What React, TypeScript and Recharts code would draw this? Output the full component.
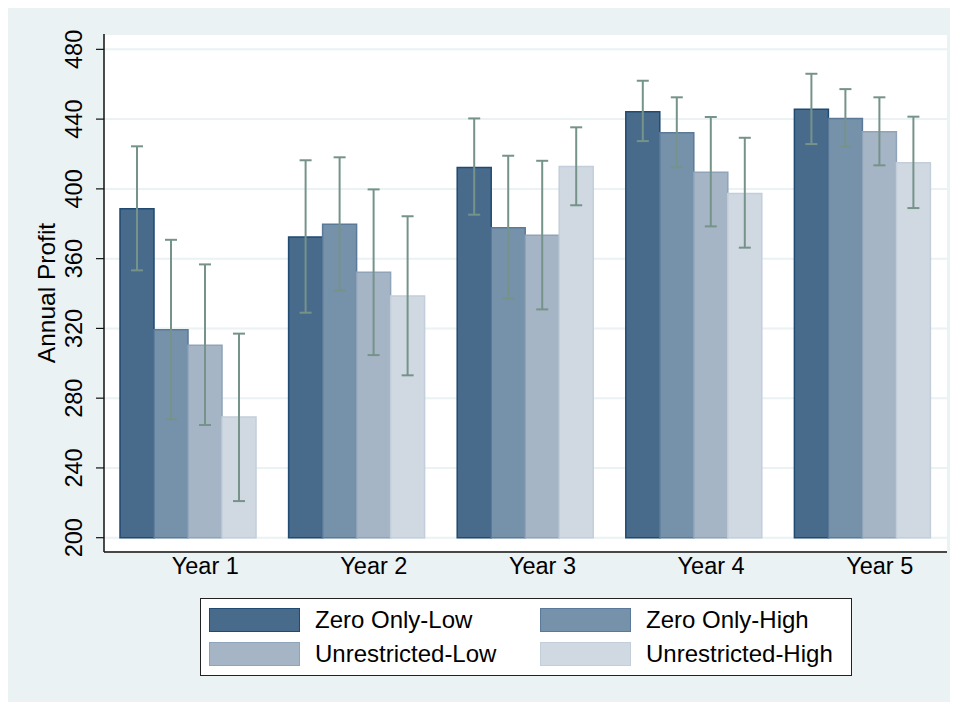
import { Bar, BarChart, CartesianGrid, ErrorBar, Label, Legend, XAxis, YAxis } from "recharts";

const years = ["Year 1", "Year 2", "Year 3", "Year 4", "Year 5"];
const seriesNames = ["Zero Only-Low", "Zero Only-High", "Unrestricted-Low", "Unrestricted-High"];

// mean annual profit per group and its 95% CI bounds
const zeroOnlyLow = [388.6, 372.4, 412.3, 444.2, 445.6];
const zeroOnlyLowLo = [353.3, 329.0, 385.2, 427.4, 425.7];
const zeroOnlyLowHi = [424.4, 416.4, 440.4, 462.0, 466.0];

const zeroOnlyHigh = [319.2, 379.7, 377.7, 432.2, 440.4];
const zeroOnlyHighLo = [268.0, 341.6, 337.2, 412.4, 424.2];
const zeroOnlyHighHi = [370.8, 418.1, 419.0, 452.5, 457.2];

const unrestrictedLow = [310.3, 352.2, 373.4, 409.5, 432.8];
const unrestrictedLowLo = [264.6, 304.7, 330.9, 378.5, 413.5];
const unrestrictedLowHi = [356.7, 399.7, 416.1, 441.2, 452.5];

const unrestrictedHigh = [269.2, 338.6, 412.9, 397.4, 415.0];
const unrestrictedHighLo = [221.0, 293.1, 390.6, 366.3, 389.0];
const unrestrictedHighHi = [317.0, 384.3, 435.3, 429.3, 441.4];

const yTicks = [200, 240, 280, 320, 360, 400, 440, 480];
const yFloor = 200;

const fills = ["#486b8c", "#7691aa", "#a5b5c5", "#d0d9e2"];
const strokes = ["#1f4a72", "#5b7a99", "#8fa3b9", "#c2ceda"];
const ciColor = "#76938a";
const panelBg = "#eaf2f3";
const font = "'Liberation Sans', Arial, sans-serif";

const series = [
  { mean: zeroOnlyLow, lo: zeroOnlyLowLo, hi: zeroOnlyLowHi },
  { mean: zeroOnlyHigh, lo: zeroOnlyHighLo, hi: zeroOnlyHighHi },
  { mean: unrestrictedLow, lo: unrestrictedLowLo, hi: unrestrictedLowHi },
  { mean: unrestrictedHigh, lo: unrestrictedHighLo, hi: unrestrictedHighHi },
];

const data = years.map((year, i) => {
  const row: Record<string, unknown> = { year };
  series.forEach((s, k) => {
    row[`v${k}`] = [yFloor, s.mean[i]];
    row[`e${k}`] = [s.mean[i] - s.lo[i], s.hi[i] - s.mean[i]];
  });
  return row;
});

function YearTick({ x, y, payload }: any) {
  return (
    <text x={x + 17} y={y + 22} textAnchor="middle" fontSize={23.5} fill="#000" fontFamily={font}>
      {payload.value}
    </text>
  );
}

function ProfitTick({ x, y, payload }: any) {
  return (
    <text
      transform={`translate(${x - 12},${y}) rotate(-90)`}
      textAnchor="middle"
      fontSize={23.5}
      fill="#000"
      fontFamily={font}
    >
      {payload.value}
    </text>
  );
}

function LegendBox() {
  return (
    <div
      style={{
        width: 652,
        height: 78,
        boxSizing: "border-box",
        border: "1.5px solid #222",
        background: "#fff",
        position: "relative",
        fontFamily: font,
      }}
    >
      {seriesNames.map((name, k) => (
        <div
          key={name}
          style={{
            position: "absolute",
            left: k % 2 === 0 ? 8 : 339,
            top: k < 2 ? 8.5 : 42.5,
            display: "flex",
            alignItems: "center",
          }}
        >
          <span
            style={{
              display: "inline-block",
              width: 91,
              height: 24,
              boxSizing: "border-box",
              background: fills[k],
              border: `1.5px solid ${strokes[k]}`,
            }}
          />
          <span style={{ marginLeft: 15, fontSize: 24, color: "#000", lineHeight: "24px" }}>{name}</span>
        </div>
      ))}
    </div>
  );
}

export default function App() {
  return (
    <div style={{ width: 950, height: 694, background: panelBg, fontFamily: font }}>
      <BarChart
        width={950}
        height={694}
        data={data}
        margin={{ top: 26, right: 11, left: 26, bottom: 100 }}
        barSize={34}
        barGap={0}
      >
        <CartesianGrid vertical={false} fill="#fff" stroke={panelBg} strokeWidth={2} />
        <XAxis
          dataKey="year"
          height={50}
          tickLine={false}
          tickSize={0}
          tickMargin={0}
          axisLine={{ stroke: "#111", strokeWidth: 1.5 }}
          tick={<YearTick />}
        />
        <YAxis
          type="number"
          width={70}
          domain={[191.8, 488.8]}
          ticks={yTicks}
          tickSize={8}
          tickMargin={2}
          tickLine={{ stroke: "#111", strokeWidth: 1.2 }}
          axisLine={{ stroke: "#111", strokeWidth: 1.5 }}
          tick={<ProfitTick />}
        >
          <Label
            content={({ viewBox }: any) => (
              <text
                transform={`translate(${viewBox.x + 21},${viewBox.y + viewBox.height / 2}) rotate(-90)`}
                textAnchor="middle"
                fontSize={24.5}
                fill="#000"
                fontFamily={font}
              >
                Annual Profit
              </text>
            )}
          />
        </YAxis>
        <Legend
          layout="vertical"
          align="center"
          verticalAlign="middle"
          content={<LegendBox />}
          wrapperStyle={{ left: 192, top: 590, width: 652, height: 78 }}
        />
        {seriesNames.map((name, k) => (
          <Bar
            key={name}
            name={name}
            dataKey={`v${k}`}
            fill={fills[k]}
            stroke={strokes[k]}
            strokeWidth={1.5}
            isAnimationActive={false}
          >
            <ErrorBar
              dataKey={`e${k}`}
              direction="y"
              width={6}
              stroke={ciColor}
              strokeWidth={2}
              isAnimationActive={false}
            />
          </Bar>
        ))}
      </BarChart>
    </div>
  );
}
